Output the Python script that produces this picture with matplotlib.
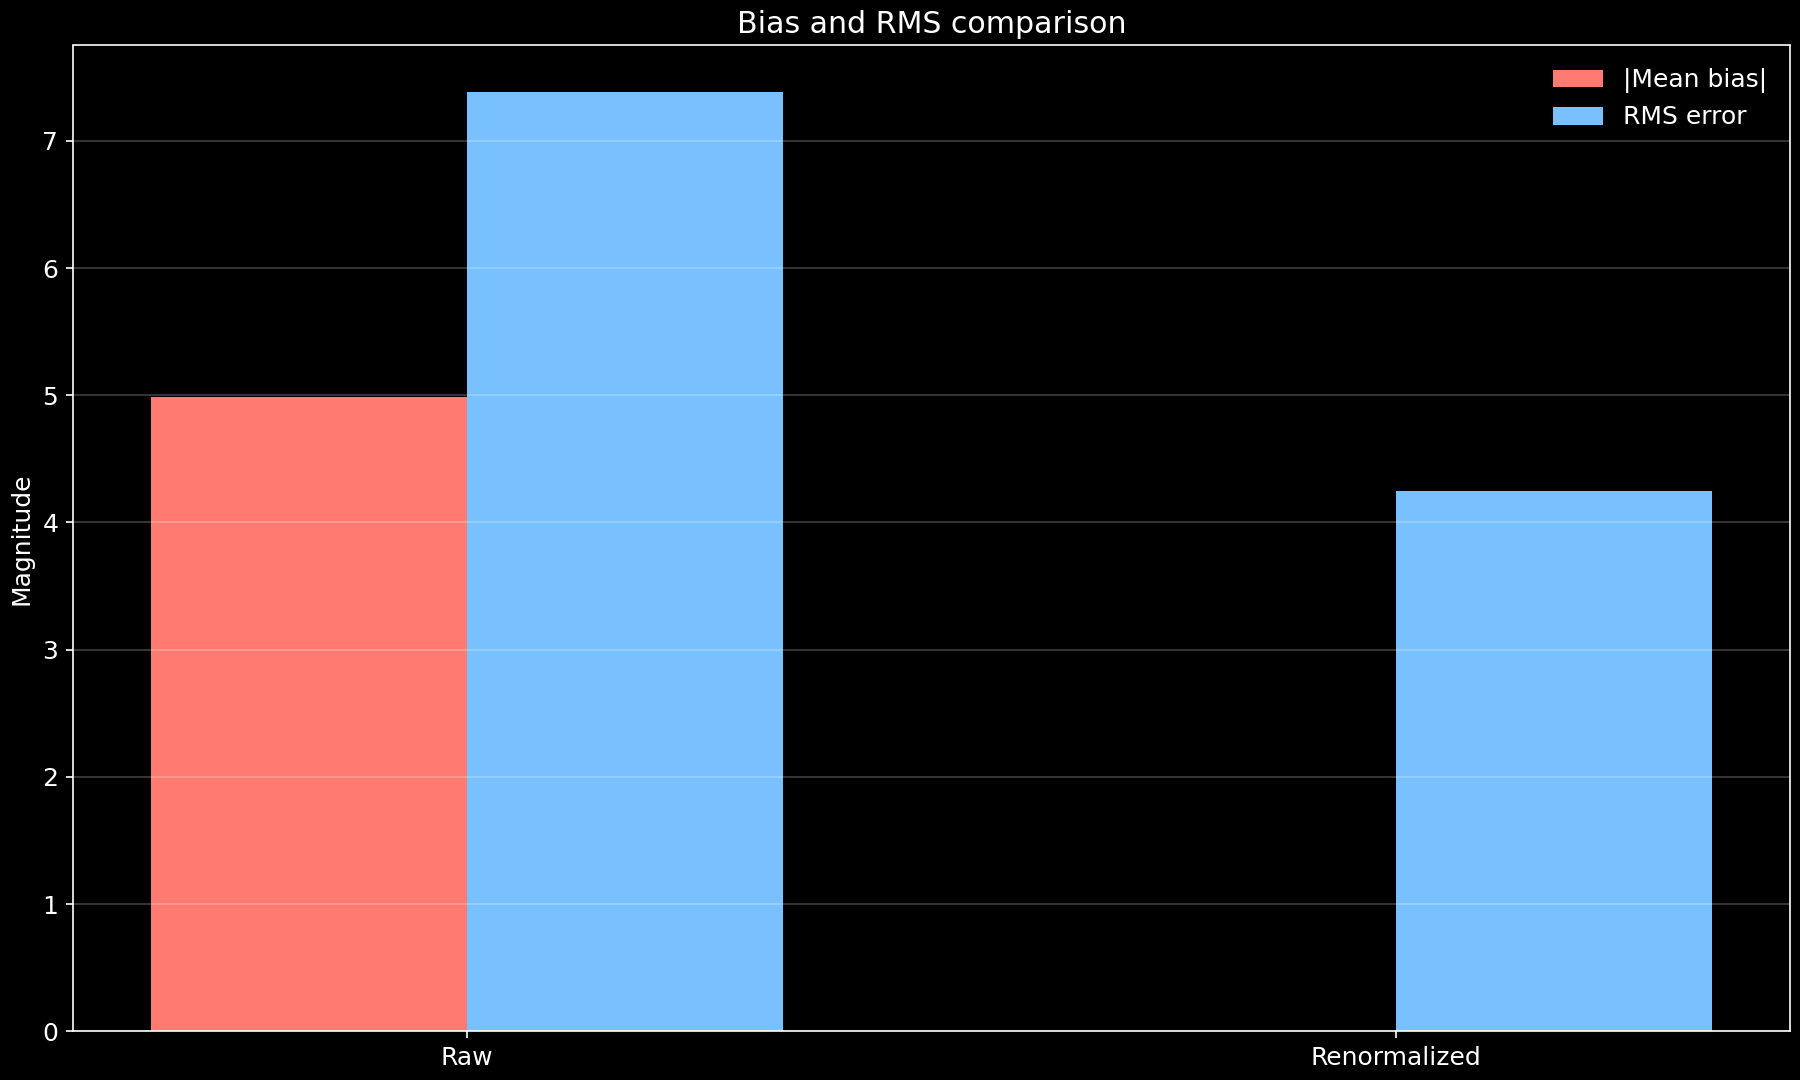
import numpy as np
import matplotlib.pyplot as plt

plt.style.use("dark_background")
plt.rcParams["font.size"] = 12

methods = ["Raw", "Renormalized"]
mean_bias = [4.99, 0.0]
rms_error = [7.38, 4.25]

x = np.arange(len(methods))
w = 0.34

fig, ax = plt.subplots(figsize=(12, 7.2), dpi=150)
ax.bar(x - w / 2, mean_bias, w, label="|Mean bias|", color="#ff7b72")
ax.bar(x + w / 2, rms_error, w, label="RMS error", color="#79c0ff")
ax.set_xticks(x)
ax.set_xticklabels(methods)
ax.set_ylabel("Magnitude")
ax.set_title("Bias and RMS comparison")
ax.grid(axis="y", color="white", alpha=0.25)
ax.legend(frameon=False)
plt.tight_layout(pad=0.4)
fig.savefig("out.png")
